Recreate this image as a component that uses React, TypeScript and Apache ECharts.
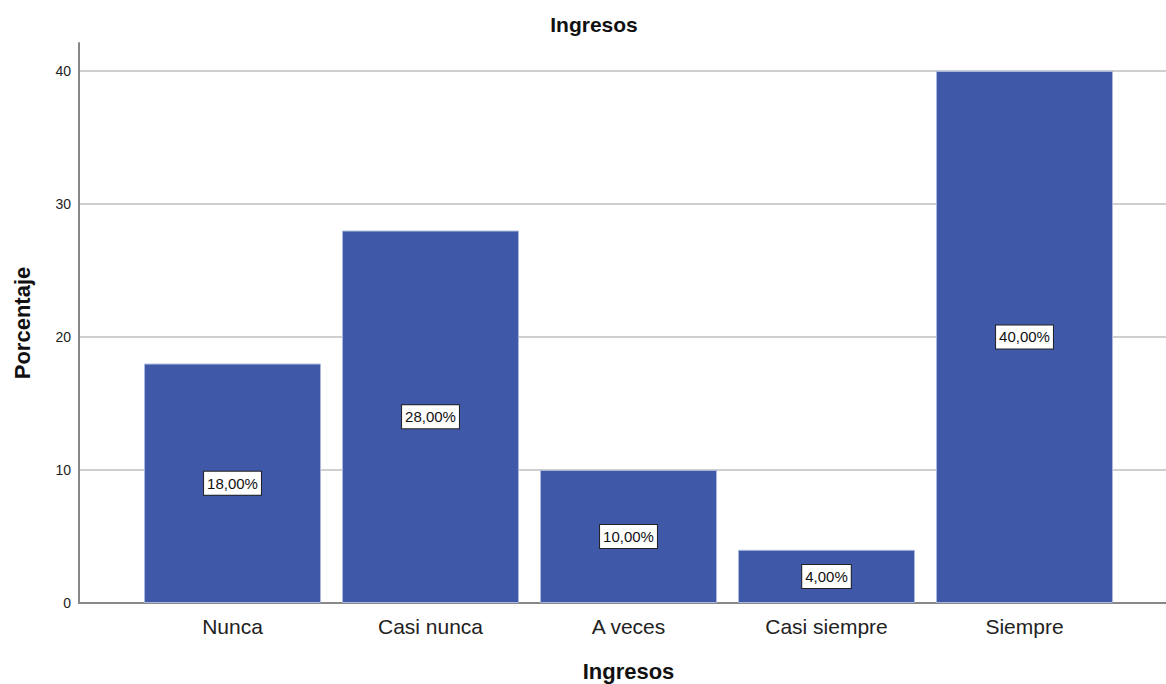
import React, { useEffect, useRef } from "react";
import * as echarts from "echarts";

const categories = ["Nunca", "Casi nunca", "A veces", "Casi siempre", "Siempre"];
const percentages = [18, 28, 10, 4, 40];
const yTicks = [0, 10, 20, 30, 40];

const Y_MAX = 42.1;
const BAR_COLOR = "#3F59A8";
const FONT = "Arial, 'Liberation Sans', sans-serif";

export default function App() {
  const ref = useRef<HTMLDivElement>(null);

  useEffect(() => {
    if (!ref.current) return;
    const chart = echarts.init(ref.current, undefined, { renderer: "svg" });
    chart.setOption({
      animation: false,
      backgroundColor: "#ffffff",
      title: {
        text: "Ingresos",
        left: 589,
        top: 9,
        textAlign: "center",
        textStyle: { fontFamily: FONT, fontSize: 21, fontWeight: "bold", color: "#111" },
      },
      grid: [
        { left: 79, right: 0, top: 43, bottom: 81, outerBoundsMode: "none", containLabel: false },
        { left: 133.5, right: 42.5, top: 43, bottom: 81, outerBoundsMode: "none", containLabel: false },
      ],
      xAxis: [
        {
          gridIndex: 0,
          type: "value",
          min: 0,
          max: 1,
          axisLine: { show: true, onZero: false, lineStyle: { color: "#888", width: 2 } },
          axisTick: { show: false },
          axisLabel: { show: false },
          splitLine: { show: false },
        },
        {
          gridIndex: 1,
          type: "category",
          data: categories,
          axisLine: { show: false },
          axisTick: { show: false },
          axisLabel: {
            margin: 13,
            fontFamily: FONT,
            fontSize: 21,
            color: "#222",
          },
          name: "Ingresos",
          nameLocation: "middle",
          nameGap: 57,
          nameTextStyle: { fontFamily: FONT, fontSize: 22, fontWeight: "bold", color: "#111" },
        },
      ],
      yAxis: [
        {
          gridIndex: 0,
          type: "value",
          min: 0,
          max: Y_MAX,
          interval: 10,
          axisLine: { show: true, lineStyle: { color: "#888", width: 2 } },
          axisTick: { show: false },
          axisLabel: {
            margin: 8,
            fontFamily: FONT,
            fontSize: 14,
            color: "#222",
            formatter: (v: number) => (yTicks.includes(v) ? String(v) : ""),
          },
          splitLine: { show: true, showMaxLine: false, lineStyle: { color: "#cfcfcf", width: 2 } },
          name: "Porcentaje",
          nameLocation: "middle",
          nameGap: 46,
          nameRotate: 90,
          nameTextStyle: { fontFamily: FONT, fontSize: 22, fontWeight: "bold", color: "#111" },
        },
        {
          gridIndex: 1,
          type: "value",
          min: 0,
          max: Y_MAX,
          show: false,
        },
      ],
      series: [
        {
          type: "bar",
          xAxisIndex: 1,
          yAxisIndex: 1,
          data: percentages,
          barWidth: 177,
          itemStyle: { color: BAR_COLOR, borderColor: "#a9b8dc", borderWidth: 1 },
          label: {
            show: true,
            position: "inside",
            formatter: (p: any) => `${Number(p.value).toFixed(2).replace(".", ",")}%`,
            fontFamily: FONT,
            fontSize: 15,
            color: "#111",
            backgroundColor: "#ffffff",
            borderColor: "#222",
            borderWidth: 1,
            padding: [5, 3, 3, 3],
          },
        },
      ],
    });
    return () => chart.dispose();
  }, []);

  return <div ref={ref} style={{ width: 1166, height: 684, position: "absolute", left: 0, top: 0 }} />;
}
